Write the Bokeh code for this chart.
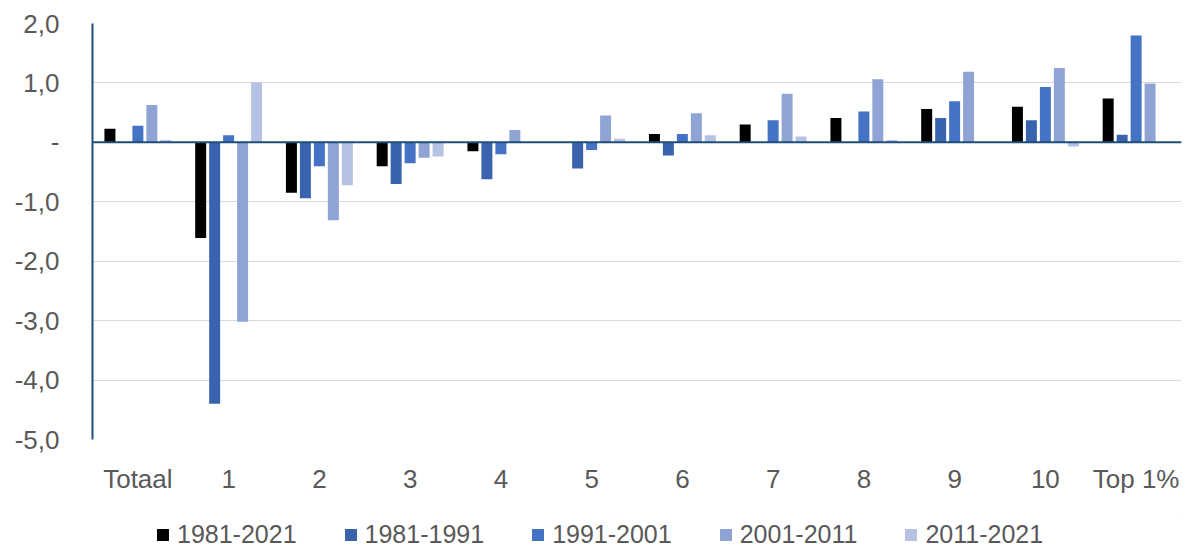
from bokeh.plotting import figure
from bokeh.layouts import column
from bokeh.models import FactorRange, Range1d, FixedTicker, Span, Legend, LegendItem, ColumnDataSource
from bokeh.transform import dodge
from bokeh.embed import file_html
from bokeh.resources import INLINE

categories = ["Totaal", "1", "2", "3", "4", "5", "6", "7", "8", "9", "10", "Top 1%"]
series_names = ["1981-2021", "1981-1991", "1991-2001", "2001-2011", "2011-2021"]
s1981_2021 = [0.23, -1.61, -0.85, -0.40, -0.15, 0.00, 0.14, 0.30, 0.41, 0.56, 0.60, 0.74]
s1981_1991 = [0.00, -4.40, -0.94, -0.70, -0.62, -0.44, -0.22, 0.00, 0.00, 0.41, 0.37, 0.13]
s1991_2001 = [0.28, 0.12, -0.40, -0.35, -0.20, -0.13, 0.14, 0.37, 0.52, 0.69, 0.93, 1.80]
s2001_2011 = [0.63, -3.02, -1.31, -0.26, 0.21, 0.45, 0.49, 0.82, 1.06, 1.19, 1.25, 0.99]
s2011_2021 = [0.04, 1.01, -0.72, -0.24, 0.00, 0.06, 0.12, 0.10, 0.04, 0.00, -0.07, 0.00]
y_ticks = [-5, -4, -3, -2, -1, 0, 1, 2]
y_tick_labels = ["-5,0", "-4,0", "-3,0", "-2,0", "-1,0", "-", "1,0", "2,0"]

colors = ["#000000", "#3A63AD", "#4472C4", "#8FA3D5", "#B6C2E3"]

src = ColumnDataSource(dict(cat=categories, a=s1981_2021, b=s1981_1991, c=s1991_2001,
                            d=s2001_2011, e=s2011_2021))
keys = ["a", "b", "c", "d", "e"]

FONT = "Liberation Sans"
TXT = "#595959"

p = figure(width=1188, height=515, output_backend="svg", toolbar_location=None,
           x_range=FactorRange(*categories, range_padding=0),
           y_range=Range1d(-5, 2),
           min_border_left=92, min_border_right=7, min_border_top=23, min_border_bottom=76)
p.outline_line_color = None
p.background_fill_color = "white"
p.border_fill_color = "white"

step = 0.154
bw = 0.121
for i, k in enumerate(keys):
    p.vbar(x=dodge("cat", (i - 2) * step, range=p.x_range), top=k, bottom=0, width=bw,
           source=src, fill_color=colors[i], line_color=None)

p.xgrid.grid_line_color = None
p.ygrid.grid_line_color = "#D9D9D9"
p.ygrid.grid_line_width = 1
p.yaxis.ticker = FixedTicker(ticks=y_ticks)
p.yaxis.major_label_overrides = {t: l for t, l in zip(y_ticks, y_tick_labels)}
p.yaxis.axis_line_color = "#1F4E79"
p.yaxis.axis_line_width = 2
p.yaxis.major_tick_line_color = None
p.yaxis.minor_tick_line_color = None
p.yaxis.major_tick_out = 0
p.yaxis.major_label_standoff = 33
p.yaxis.major_label_text_font = FONT
p.yaxis.major_label_text_font_size = "26px"
p.yaxis.major_label_text_color = TXT

p.xaxis.axis_line_color = None
p.xaxis.major_tick_line_color = None
p.xaxis.minor_tick_line_color = None
p.xaxis.major_tick_out = 0
p.xaxis.major_label_standoff = 24
p.xaxis.major_label_text_font = FONT
p.xaxis.major_label_text_font_size = "26px"
p.xaxis.major_label_text_color = TXT

p.add_layout(Span(location=0, dimension="width", line_color="#1F4E79", line_width=2))

# legend strip (its swatch renderers sit outside the visible range)
lg = figure(width=1188, height=34, output_backend="svg", toolbar_location=None,
            x_range=Range1d(0, 1), y_range=Range1d(0, 1),
            min_border_left=0, min_border_right=0, min_border_top=0, min_border_bottom=0)
lg.axis.visible = False
lg.grid.visible = False
lg.outline_line_color = None
lg.border_fill_color = "white"
items = []
for n, c in zip(series_names, colors):
    r = lg.vbar(x=[5.0], top=[5.0], bottom=[4.0], width=0.1, fill_color=c, line_color=None)
    items.append(LegendItem(label=n, renderers=[r]))
legend = Legend(items=items, orientation="horizontal", location=(63, 0), padding=0, margin=0,
                spacing=46, label_standoff=7, glyph_width=15, glyph_height=15,
                label_text_font=FONT, label_text_font_size="25px", label_text_color=TXT,
                border_line_color=None, background_fill_alpha=0)
lg.add_layout(legend, "center")

layout = column(p, lg, spacing=0)
open("out.html", "w").write(file_html(layout, INLINE))
